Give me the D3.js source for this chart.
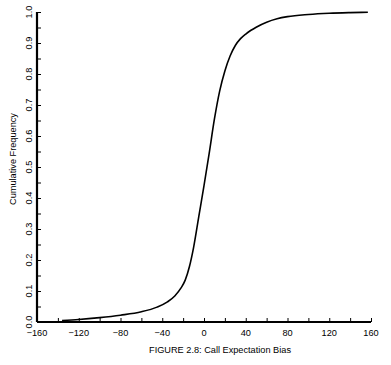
<!DOCTYPE html>
<html>
<head>
<meta charset="utf-8">
<script src="https://cdn.jsdelivr.net/npm/d3@7"></script>
<style>
html,body{margin:0;padding:0;background:#fff;}
text{font-family:"Liberation Sans",Arial,sans-serif;fill:#000;}
</style>
</head>
<body>
<svg id="chart" width="391" height="365"></svg>
<script>
const biasValues = [-136, -120, -100, -80, -60, -45, -35, -28, -22, -18, -14, -10, -5, 0, 5, 10, 15, 20, 25, 30, 35, 40, 45, 50, 60, 70, 80, 100, 120, 140, 157];
const cumFreq =    [0.005, 0.008, 0.014, 0.022, 0.033, 0.048, 0.065, 0.084, 0.11, 0.135, 0.178, 0.24, 0.34, 0.44, 0.545, 0.655, 0.745, 0.81, 0.858, 0.892, 0.914, 0.929, 0.941, 0.951, 0.967, 0.978, 0.985, 0.992, 0.996, 0.998, 0.999];
const xTickLabels = [-160, -120, -80, -40, 0, 40, 80, 120, 160];
const yTickLabels = [0.0, 0.1, 0.2, 0.3, 0.4, 0.5, 0.6, 0.7, 0.8, 0.9, 1.0];
const xTitle = "FIGURE 2.8: Call Expectation Bias";
const yTitle = "Cumulative Frequency";

(function () {
const svg = d3.select("#chart");
const mL = 37, mR = 371, mT = 12, mB = 322;
const fs = 9.2;
const x = d3.scaleLinear().domain([-160, 160]).range([mL, mR]);
const y = d3.scaleLinear().domain([0, 1]).range([mB, mT]);

// x axis
const xAxis = d3.axisBottom(x).tickValues(d3.range(-160, 161, 20)).tickSize(-4).tickFormat("");
const gx = svg.append("g").attr("transform", `translate(0,${mB})`).call(xAxis);
gx.select(".domain").attr("stroke-width", 2.2).attr("d", `M${mL},0H${mR}`);
gx.selectAll(".tick line").attr("stroke-width", 1);
svg.append("g").selectAll("text").data(xTickLabels).join("text")
  .attr("x", d => x(d)).attr("y", mB + 14)
  .attr("text-anchor", "middle").attr("font-size", fs)
  .text(d => d < 0 ? "\u2212" + Math.abs(d) : d);

// y axis
const yAxis = d3.axisLeft(y).tickValues(d3.range(0, 1.0001, 0.05)).tickSize(-4).tickFormat("");
const gy = svg.append("g").attr("transform", `translate(${mL},0)`).call(yAxis);
gy.select(".domain").attr("stroke-width", 2.2).attr("d", `M0,${mB}V${mT}`);
gy.selectAll(".tick line").attr("stroke-width", 1);
svg.append("g").selectAll("text").data(yTickLabels).join("text")
  .attr("transform", d => `translate(${mL - 5},${y(d)}) rotate(-90)`)
  .attr("text-anchor", "middle").attr("font-size", fs)
  .text(d => d.toFixed(1));

// titles
svg.append("text").attr("x", 220).attr("y", 353).attr("text-anchor", "middle")
  .attr("font-size", fs).text(xTitle);
svg.append("text").attr("transform", `translate(16,159) rotate(-90)`)
  .attr("text-anchor", "middle").attr("font-size", fs).text(yTitle);

// curve
const line = d3.line().x((d, i) => x(biasValues[i])).y(d => y(d)).curve(d3.curveMonotoneX);
svg.append("path").datum(cumFreq).attr("d", line)
  .attr("fill", "none").attr("stroke", "#000").attr("stroke-width", 1.6);
})();
</script>
</body>
</html>
